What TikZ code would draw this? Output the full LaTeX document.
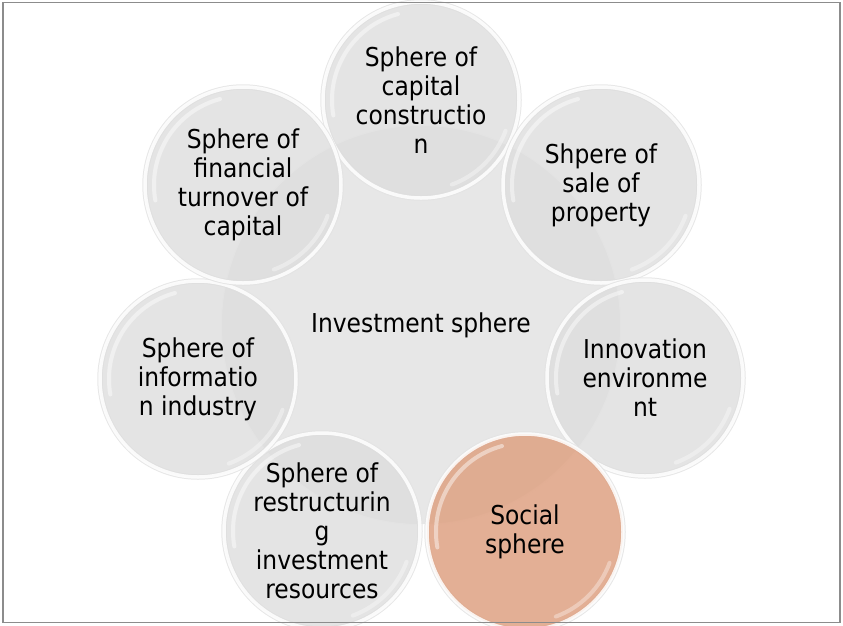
\documentclass[tikz,border=0pt]{standalone}
\usepackage{fontspec}
\setmainfont{DejaVu Sans Condensed}
\definecolor{centrefill}{RGB}{231,231,231}
\definecolor{glassfill}{RGB}{221,221,221}
\definecolor{socialfill}{RGB}{223,164,134}
\definecolor{framegray}{RGB}{140,140,140}
\begin{document}
\begin{tikzpicture}[x=1pt,y=-1pt,
  txt/.style={font=\fontsize{26}{29}\selectfont, align=center, text=black, text opacity=1},
  centre/.style={circle, minimum size=400pt, inner sep=0pt, txt, fill=centrefill,
    draw=white, line width=1.8pt, draw opacity=0.9},
  glass/.style={circle, minimum size=196pt, inner sep=0pt, txt, fill=glassfill, fill opacity=0.78,
    draw=white, line width=3.5pt, draw opacity=0.85,
    preaction={draw=black!11, line width=5.5pt}},
  social/.style={glass, fill=socialfill, fill opacity=0.88},
  shine/.style={white, line width=4pt, opacity=0.45, line cap=round},
  frame/.style={draw=framegray, line width=1.6pt}
]
\useasboundingbox (0,0) rectangle (843,625);
\begin{scope}
\clip (0,0) rectangle (843,625);
\node[centre] (c) at (421,325) {Investment sphere};
\node[glass] (n1) at (421,100) {Sphere of\\capital\\constructio\\n};
\node[glass] (n2) at (601,185) {Shpere of\\sale of\\property};
\node[glass] (n3) at (645,378) {Innovation\\environme\\nt};
\node[glass] (n5) at (322,531) {Sphere of\\restructurin\\g\\investment\\resources};
\node[glass] (n6) at (198,379) {Sphere of\\informatio\\n industry};
\node[glass] (n7) at (243,185) {Sphere of\\financial\\turnover of\\capital};
\node[social] (n4) at (525,532) {Social\\sphere};
\foreach \n in {n1,n2,n3,n4,n5,n6,n7}{
  \draw[shine] (\n.center) ++(-105:89) arc[start angle=-105, end angle=-190, radius=89];
  \draw[shine, opacity=0.35] (\n.center) ++(20:90) arc[start angle=20, end angle=70, radius=90];
}
\end{scope}
\node[frame, rectangle, minimum width=837pt, minimum height=620pt, inner sep=0pt] (fr) at (421.5,312.5) {};
\end{tikzpicture}
\end{document}
